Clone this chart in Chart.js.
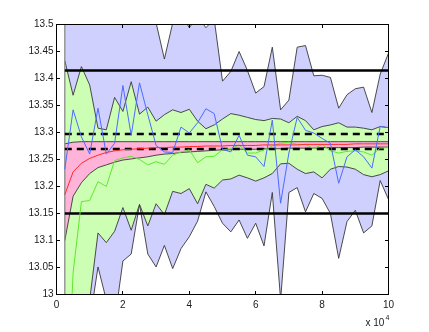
<!DOCTYPE html>
<html>
<head>
<meta charset="utf-8">
<script src="https://cdn.jsdelivr.net/npm/chart.js@4.4.1/dist/chart.umd.min.js"></script>
<style>
  html, body { margin: 0; padding: 0; background: #fff; }
</style>
</head>
<body>
<canvas id="c" width="429" height="332"></canvas>
<script>
// x positions (units of 1e4)
const xs = [0.25, 0.5, 0.75, 1, 1.25, 1.5, 1.75, 2, 2.25, 2.5, 2.75, 3, 3.25, 3.5, 3.75, 4, 4.25, 4.5, 4.75, 5,
            5.25, 5.5, 5.75, 6, 6.25, 6.5, 6.75, 7, 7.25, 7.5, 7.75, 8, 8.25, 8.5, 8.75, 9, 9.25, 9.5, 9.75, 10];

// outer band (lavender)
const outerUpper = [13.60, 13.62, 13.58, 13.60, 13.64, 13.60, 13.62, 13.58, 13.60, 13.62, 13.56, 13.503, 13.436, 13.503, 13.52, 13.494, 13.515, 13.494, 13.51, 13.395,
                    13.413, 13.45, 13.415, 13.373, 13.385, 13.458, 13.342, 13.36, 13.458, 13.461, 13.405, 13.406, 13.402, 13.345, 13.37, 13.381, 13.384, 13.337, 13.408, 13.447];
const outerLower = [12.80, 12.80, 12.85, 12.95, 13.051, 12.99, 12.95, 13.062, 13.075, 13.167, 13.075, 13.051, 13.091, 13.048, 13.085, 13.107, 13.136, 13.19, 13.163, 13.132,
                    13.116, 13.138, 13.104, 13.132, 13.09, 13.189, 12.99, 13.189, 13.198, 13.153, 13.187, 13.178, 13.15, 13.067, 13.135, 13.156, 13.114, 13.127, 13.211, 13.176];

// middle band (green)
const greenUpper = [13.433, 13.369, 13.422, 13.388, 13.308, 13.305, 13.365, 13.339, 13.394, 13.334, 13.347, 13.321, 13.333, 13.342, 13.337, 13.343, 13.321, 13.307, 13.314, 13.325,
                    13.335, 13.332, 13.328, 13.324, 13.322, 13.326, 13.325, 13.318, 13.33, 13.322, 13.305, 13.311, 13.314, 13.318, 13.31, 13.31, 13.308, 13.305, 13.311, 13.309];
const greenLower = [12.70, 12.80, 12.90, 12.99, 13.114, 13.096, 13.117, 13.161, 13.119, 13.167, 13.127, 13.168, 13.148, 13.191, 13.187, 13.196, 13.168, 13.204, 13.197, 13.212,
                    13.214, 13.221, 13.216, 13.21, 13.216, 13.224, 13.242, 13.243, 13.232, 13.224, 13.227, 13.216, 13.232, 13.237, 13.236, 13.232, 13.222, 13.218, 13.222, 13.229];

// inner band (pink)
const pinkUpper = [13.279, 13.282, 13.283, 13.283, 13.283, 13.283, 13.283, 13.283, 13.283, 13.283, 13.283, 13.283, 13.283, 13.283, 13.283, 13.283, 13.283, 13.283, 13.283, 13.283,
                   13.283, 13.283, 13.283, 13.283, 13.283, 13.283, 13.283, 13.283, 13.283, 13.283, 13.283, 13.283, 13.283, 13.283, 13.283, 13.283, 13.283, 13.283, 13.283, 13.283];
const pinkLower = [13.100, 13.182, 13.207, 13.224, 13.235, 13.240, 13.245, 13.249, 13.251, 13.253, 13.255, 13.258, 13.260, 13.261, 13.263, 13.264, 13.265, 13.266, 13.267, 13.268,
                   13.268, 13.269, 13.269, 13.269, 13.270, 13.270, 13.270, 13.271, 13.271, 13.271, 13.271, 13.272, 13.272, 13.272, 13.272, 13.272, 13.273, 13.273, 13.273, 13.273];

// lines
const meanLine = [13.185, 13.227, 13.243, 13.252, 13.258, 13.263, 13.266, 13.268, 13.269, 13.270, 13.271, 13.272, 13.272, 13.273, 13.273, 13.274, 13.274, 13.275, 13.275, 13.275,
                  13.276, 13.276, 13.276, 13.276, 13.277, 13.277, 13.277, 13.277, 13.277, 13.278, 13.278, 13.278, 13.278, 13.278, 13.278, 13.279, 13.279, 13.279, 13.279, 13.279];
const greenLine = [12.70, 13.04, 13.172, 13.174, 13.209, 13.20, 13.248, 13.253, 13.256, 13.25, 13.24, 13.246, 13.241, 13.258, 13.264, 13.268, 13.244, 13.255, 13.256, 13.268,
                   13.27, 13.277, 13.262, 13.262, 13.268, 13.275, 13.28, 13.282, 13.278, 13.278, 13.27, 13.278, 13.266, 13.262, 13.265, 13.266, 13.264, 13.258, 13.271, 13.272];
const blueLine = [13.232, 13.342, 13.292, 13.26, 13.345, 13.26, 13.28, 13.387, 13.295, 13.392, 13.333, 13.276, 13.264, 13.263, 13.31, 13.299, 13.318, 13.344, 13.335, 13.269,
                  13.264, 13.295, 13.258, 13.255, 13.237, 13.323, 13.169, 13.262, 13.328, 13.304, 13.299, 13.289, 13.28, 13.206, 13.255, 13.268, 13.255, 13.234, 13.311, 13.309];

// reference levels
const solidLevels = [13.415, 13.15];
const dashedLevels = [13.297, 13.2695];

const xTicks = [0, 2, 4, 6, 8, 10];

const pts = arr => arr.map((y, i) => ({ x: xs[i], y }));
const hline = v => [{ x: xs[0], y: v }, { x: xs[xs.length - 1], y: v }];

const EDGE = '#383838';
const base = { pointRadius: 0, tension: 0, fill: false, borderWidth: 1 };

const datasets = [
  { ...base, data: pts(blueLine), borderColor: '#4a6cff' },
  { ...base, data: pts(meanLine), borderColor: '#ff2a2a' },
  { ...base, data: pts(greenLine), borderColor: '#5ee82e' },
  ...solidLevels.map(v => ({ ...base, data: hline(v), borderColor: '#000', borderWidth: 2.5 })),
  ...dashedLevels.map(v => ({ ...base, data: hline(v), borderColor: '#000', borderWidth: 2.5, borderDash: [7, 5] })),
  { ...base, data: [{ x: xs[0], y: 12.5 }, { x: xs[0], y: 13.7 }], borderColor: '#8a8a8a', borderWidth: 1.3 },
  { ...base, data: pts(pinkUpper), borderColor: EDGE, borderWidth: 0.9 },
  { ...base, data: pts(pinkLower), borderColor: EDGE, borderWidth: 0.9, fill: { target: '-1' }, backgroundColor: 'rgb(255,179,217)' },
  { ...base, data: pts(greenUpper), borderColor: EDGE, borderWidth: 0.9 },
  { ...base, data: pts(greenLower), borderColor: EDGE, borderWidth: 0.9, fill: { target: '-1' }, backgroundColor: 'rgb(204,255,179)' },
  { ...base, data: pts(outerUpper), borderColor: EDGE, borderWidth: 0.9 },
  { ...base, data: pts(outerLower), borderColor: EDGE, borderWidth: 0.9, fill: { target: '-1' }, backgroundColor: 'rgb(208,208,255)' },
];

const FONT = { family: "'Liberation Sans', Arial, sans-serif", size: 10 };

// axis box, inward ticks and the exponent label
const frame = {
  id: 'frame',
  afterDraw(chart) {
    const { ctx, chartArea: a, scales: { x, y } } = chart;
    ctx.save();
    ctx.strokeStyle = '#000';
    ctx.lineWidth = 1;
    ctx.strokeRect(a.left, a.top, a.right - a.left, a.bottom - a.top);
    ctx.beginPath();
    x.ticks.forEach(t => {
      const px = Math.round(x.getPixelForValue(t.value) - 0.5) + 0.5;
      ctx.moveTo(px, a.bottom); ctx.lineTo(px, a.bottom - 3.5);
      ctx.moveTo(px, a.top); ctx.lineTo(px, a.top + 3.5);
    });
    y.ticks.forEach(t => {
      const py = Math.round(y.getPixelForValue(t.value) - 0.5) + 0.5;
      ctx.moveTo(a.left, py); ctx.lineTo(a.left + 3.5, py);
      ctx.moveTo(a.right, py); ctx.lineTo(a.right - 3.5, py);
    });
    ctx.stroke();
    ctx.fillStyle = '#1a1a1a';
    ctx.textBaseline = 'alphabetic';
    ctx.font = "10px 'Liberation Sans', Arial, sans-serif";
    ctx.fillText('x 10', 365.5, 326);
    ctx.font = "7px 'Liberation Sans', Arial, sans-serif";
    ctx.fillText('4', 385.5, 320);
    ctx.restore();
  }
};

new Chart(document.getElementById('c'), {
  type: 'line',
  data: { datasets },
  options: {
    responsive: false,
    animation: false,
    devicePixelRatio: 1,
    layout: { padding: { top: 24.5, right: 40.5, left: 0, bottom: 0 } },
    plugins: { legend: { display: false }, tooltip: { enabled: false } },
    scales: {
      x: {
        type: 'linear', min: 0, max: 10,
        afterFit: s => { s.height = 37.5; },
        afterBuildTicks: s => { s.ticks = xTicks.map(v => ({ value: v })); },
        grid: { display: false, drawTicks: false },
        border: { display: false },
        ticks: { padding: 5, font: FONT, color: '#1a1a1a', maxRotation: 0 }
      },
      y: {
        min: 13, max: 13.5,
        afterFit: s => { s.width = 56.5; },
        grid: { display: false, drawTicks: false },
        border: { display: false },
        ticks: { stepSize: 0.05, padding: 3, font: FONT, color: '#1a1a1a', callback: v => +v.toFixed(2) }
      }
    }
  },
  plugins: [frame]
});
</script>
</body>
</html>
